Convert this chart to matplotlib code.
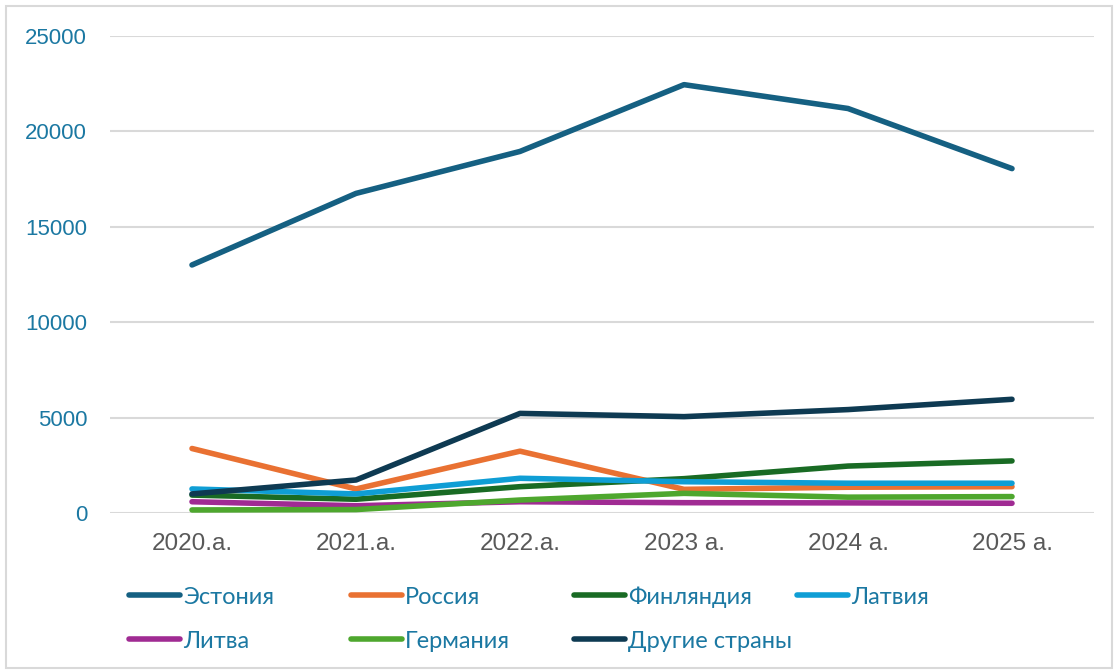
import matplotlib
matplotlib.use("Agg")
import matplotlib.pyplot as plt
from matplotlib.patches import Rectangle
from matplotlib.lines import Line2D

years = ["2020.a.", "2021.a.", "2022.a.", "2023 a.", "2024 a.", "2025 a."]
series_names = ["Эстония", "Россия", "Финляндия", "Латвия", "Литва", "Германия", "Другие страны"]
estonia = [13000, 16750, 18950, 22450, 21200, 18050]
russia = [3380, 1260, 3240, 1240, 1350, 1380]
finland = [940, 720, 1380, 1800, 2460, 2730]
latvia = [1260, 1000, 1820, 1640, 1560, 1560]
lithuania = [590, 380, 590, 540, 530, 510]
germany = [160, 180, 680, 1030, 830, 860]
other = [1000, 1730, 5220, 5050, 5420, 5960]
colors = ["#156082", "#E97132", "#196B24", "#0F9ED5", "#A02B93", "#4EA72E", "#0E3A52"]
yticks = [0, 5000, 10000, 15000, 20000, 25000]

data = [estonia, russia, finland, latvia, lithuania, germany, other]

W, H = 1118, 671
fig = plt.figure(figsize=(W / 100, H / 100), dpi=100)
fig.patch.set_facecolor("white")
fig.patches.append(Rectangle((6 / W, 1 - 668 / H), (W - 12) / W, 662 / H,
                             transform=fig.transFigure, fill=False,
                             edgecolor="#D9D9D9", linewidth=1.5))

ax = fig.add_axes([110 / W, 1 - 513 / H, 984 / W, 477 / H])
x = list(range(len(years)))
lines = []
for name, vals, c in zip(series_names, data, colors):
    ln, = ax.plot(x, vals, color=c, linewidth=4.0, solid_capstyle="round",
                  solid_joinstyle="round", label=name, zorder=3)
    lines.append(ln)

ax.set_xlim(-0.5, 5.5)
ax.set_ylim(0, 25000)
ax.set_yticks(yticks)
ax.set_yticklabels([str(v) for v in yticks])
ax.set_xticks(x)
ax.set_xticklabels(years)
ax.grid(axis="y", color="#D9D9D9", linewidth=1.5, zorder=0)
for s in ax.spines.values():
    s.set_visible(False)
ax.tick_params(axis="both", length=0)
ax.tick_params(axis="y", pad=16.5, labelsize=16, labelcolor="#1B78A2")
ax.tick_params(axis="x", pad=14.5, labelsize=17.5, labelcolor="#595959")
for t in ax.get_yticklabels() + ax.get_xticklabels():
    t.set_fontfamily("Liberation Sans")

# legend: uniform grid of entries
col_x = [127, 349, 572, 795]
row_y = [597, 641]
for i, ln in enumerate(lines):
    r, c = divmod(i, 4)
    h = Line2D([], [], color=ln.get_color(), linewidth=4.0, solid_capstyle="round")
    leg = fig.legend(handles=[h], labels=[ln.get_label()],
                     loc="center left",
                     bbox_to_anchor=((col_x[c] + 2) / W, 1 - row_y[r] / H),
                     frameon=False, handlelength=2.15, handletextpad=0.15,
                     borderpad=0, borderaxespad=0,
                     prop={"family": "Lato", "size": 17})
    for t in leg.get_texts():
        t.set_color("#1B78A2")

fig.savefig("out.png", dpi=100, facecolor="white")
